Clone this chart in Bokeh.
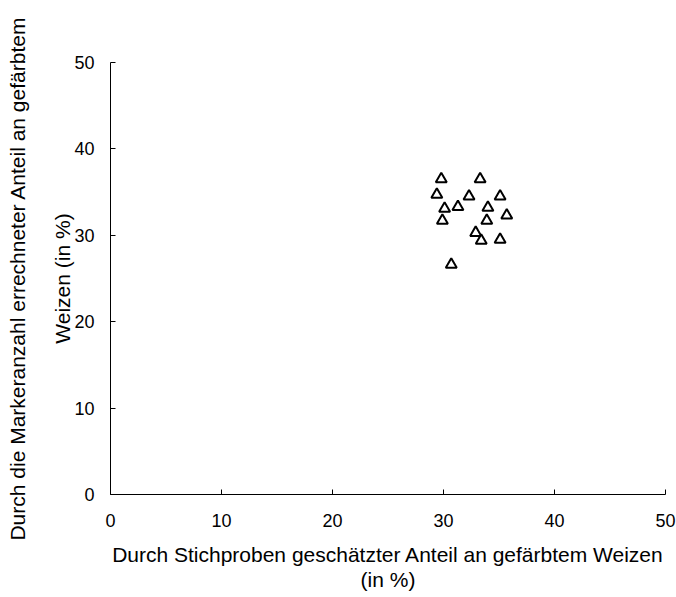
from bokeh.plotting import figure
from bokeh.models import Range1d, LinearAxis, FixedTicker
from bokeh.embed import file_html
from bokeh.resources import INLINE

# Data
x_sample = [29.8, 33.3, 29.4, 32.3, 35.1, 30.1, 31.3, 34.0, 35.7, 29.9, 33.9, 32.9, 33.4, 35.1, 30.7]
y_marker = [36.5, 36.5, 34.7, 34.5, 34.5, 33.1, 33.3, 33.2, 32.3, 31.7, 31.7, 30.3, 29.4, 29.5, 26.6]
ticks = [0, 10, 20, 30, 40, 50]
x_title = ["Durch Stichproben geschätzter Anteil an gefärbtem Weizen", "(in %)"]
y_title = ["Durch die Markeranzahl errechneter Anteil an gefärbtem", "Weizen (in %)"]

FONT = "Liberation Sans"
TITLE_SIZE = "21px"

p = figure(width=676, height=597, x_range=Range1d(0, 50), y_range=Range1d(0, 50),
           output_backend="svg", toolbar_location=None,
           min_border_left=110, min_border_right=11, min_border_top=62, min_border_bottom=103)
p.outline_line_color = None
p.xgrid.visible = False
p.ygrid.visible = False
p.background_fill_color = "white"
p.border_fill_color = "white"

for ax in (p.xaxis[0], p.yaxis[0]):
    ax.ticker = FixedTicker(ticks=ticks)
    ax.axis_line_color = "black"
    ax.axis_line_width = 1
    ax.major_tick_line_color = "black"
    ax.major_tick_in = 5
    ax.major_tick_out = 0
    ax.minor_tick_line_color = None
    ax.major_label_text_font = FONT
    ax.major_label_text_font_size = "18px"
    ax.major_label_text_color = "black"
    ax.axis_label_text_font = FONT
    ax.axis_label_text_font_size = TITLE_SIZE
    ax.axis_label_text_font_style = "normal"
    ax.axis_label_text_color = "black"
p.xaxis.major_label_standoff = 19
p.yaxis.major_label_standoff = 16

# inner title lines as the axes' own labels
p.xaxis.axis_label = x_title[0]
p.xaxis.axis_label_standoff = 13
p.yaxis.axis_label = y_title[1]
p.yaxis.axis_label_standoff = -3


def title_axis(txt, standoff):
    a = LinearAxis(ticker=FixedTicker(ticks=[]), axis_line_color=None,
                   major_tick_line_color=None, minor_tick_line_color=None,
                   major_tick_in=0, major_tick_out=0, major_label_standoff=0,
                   axis_label=txt, axis_label_standoff=standoff,
                   axis_label_text_font=FONT, axis_label_text_font_size=TITLE_SIZE,
                   axis_label_text_font_style="normal", axis_label_text_color="black")
    return a


p.add_layout(title_axis(x_title[1], -1), "below")
p.add_layout(title_axis(y_title[0], 20), "left")

p.scatter(x_sample, y_marker, marker="triangle", size=11, fill_color="white",
          line_color="black", line_width=2)

open("out.html", "w").write(file_html(p, INLINE))
